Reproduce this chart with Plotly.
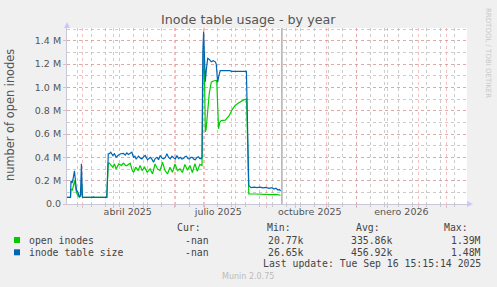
import plotly.graph_objects as go
import pandas as pd

# ---------------- data ----------------
START = "2025-02-13"          # day offsets below are counted from this date
END = "2026-03-22"
NOW = "2025-09-17"

blue_day = [0, 3.5, 4, 5, 6, 7.5, 8.5, 9.5, 11, 12.5, 13.5, 14.5, 15.5, 16, 26, 26.5, 27, 40,
            41.5, 42.6, 44, 46, 47.7, 49.4, 51.7, 54.1, 56.8, 58.5, 60.1, 61.8, 63.5, 65.2, 66.8,
            68.2, 69.5, 71.9, 73.5, 75.2, 77, 78.6, 80.9, 82.2, 83.6, 85.3, 87, 88.6, 90.3, 92,
            93.7, 95.4, 97.1, 98.8, 100.4, 102.1, 103.8, 105.5, 107.1, 108.8, 110.5, 112.2, 113.9,
            115.5, 117, 118.5, 120, 121.5, 123, 124.5, 126, 127.5, 129, 130.5, 132, 133.5, 135, 135.7,
            136.5, 137.3, 138, 139, 140, 141.4, 143, 145, 147, 149, 150, 151.4, 152.6, 154, 164, 165,
            180.3, 181.9, 182.7, 185, 188, 191, 194, 197, 200, 203, 206, 208, 210, 212, 213.5, 214.6]
blue_val = [0.057, 0.057, 0.20, 0.18, 0.21, 0.285, 0.20, 0.12, 0.10, 0.06, 0.07, 0.345, 0.06, 0.057,
            0.057, 0.065, 0.057, 0.057,
            0.43, 0.431, 0.444, 0.416, 0.431, 0.401, 0.420, 0.431, 0.435, 0.42, 0.438, 0.425, 0.435,
            0.444, 0.401, 0.41, 0.387, 0.41, 0.395, 0.387, 0.405, 0.416, 0.379, 0.395, 0.401, 0.385,
            0.358, 0.39, 0.401, 0.38, 0.416, 0.395, 0.387, 0.40, 0.431, 0.40, 0.387, 0.41, 0.401,
            0.385, 0.416, 0.39, 0.401, 0.385, 0.39, 0.405, 0.41, 0.39, 0.385, 0.40, 0.40, 0.385, 0.38,
            0.40, 0.405, 0.39, 0.39, 0.40,
            1.30, 1.48, 1.30, 1.05, 1.15, 1.25, 1.24, 1.22, 1.23, 1.22, 1.20, 1.045, 1.10, 1.145,
            1.145, 1.138, 1.138, 0.35, 0.158, 0.14, 0.145, 0.14, 0.145, 0.138, 0.142, 0.135, 0.14,
            0.128, 0.135, 0.12, 0.125, 0.11]

green_day = [0, 3.5, 4, 5.5, 7.5, 8.5, 9.5, 11, 12.5, 14, 14.8, 15.5, 16, 40,
             41.5, 42.6, 44.5, 46, 47.7, 49.4, 52, 54.5, 56.8, 59, 60.1, 62, 63.5, 65.5, 67, 69,
             71.5, 73.5, 75.5, 78, 80.5, 83.5, 86, 88.5, 91, 93.5, 96, 98.5, 101, 103.5, 106, 108.5,
             111, 113.5, 116, 118.5, 121, 123.5, 126, 128.5, 131, 133.5, 135.7,
             136.5, 137.3, 138.2, 139, 139.8, 141, 143, 145, 147, 150.5, 151.4, 152.3, 153.5, 155,
             159, 161, 163, 166, 169, 172, 175, 178, 180.5, 181.7, 182.7, 190, 195, 200, 205, 210,
             214.6]
green_val = [0.057, 0.057, 0.13, 0.12, 0.20, 0.15, 0.10, 0.07, 0.06, 0.08, 0.17, 0.06, 0.057, 0.057,
             0.35, 0.350, 0.33, 0.316, 0.344, 0.30, 0.344, 0.33, 0.35, 0.33, 0.33, 0.344, 0.35,
             0.29, 0.272, 0.316, 0.287, 0.33, 0.287, 0.316, 0.272, 0.301, 0.258, 0.344, 0.301,
             0.287, 0.358, 0.287, 0.258, 0.316, 0.272, 0.344, 0.287, 0.301, 0.27, 0.34, 0.29, 0.33,
             0.27, 0.345, 0.28, 0.34, 0.33,
             1.0, 1.32, 1.10, 0.62, 0.64, 0.78, 0.95, 1.045, 1.055, 1.06, 0.85, 0.645, 0.70, 0.715,
             0.72, 0.74, 0.758, 0.81, 0.845, 0.865, 0.88, 0.895, 0.90, 0.50, 0.086, 0.086, 0.083,
             0.085, 0.08, 0.082, 0.075]

y_ticks = [0, 0.2, 0.4, 0.6, 0.8, 1.0, 1.2, 1.4]
y_ticktext = ["0.0", "0.2 M", "0.4 M", "0.6 M", "0.8 M", "1.0 M", "1.2 M", "1.4 M"]
x_label_dates = ["2025-04-15", "2025-07-15", "2025-10-15", "2026-01-15"]
x_label_text = ["abril 2025", "julio 2025", "octubre 2025", "enero 2026"]

series_names = ["open inodes", "inode table size"]
series_colors = ["#00CC00", "#0066B3"]
stats_cur = ["-nan", "-nan"]
stats_min = ["20.77k", "26.65k"]
stats_avg = ["335.86k", "456.92k"]
stats_max = ["1.39M", "1.48M"]

# ---------------- geometry ----------------
W, H = 497, 287
L, R, T, B = 67, 467, 28, 204


def fx(x):
    return (x - L) / (R - L)


def fy(y):
    return (B - y) / (B - T)


base = pd.Timestamp(START)
blue_x = base + pd.to_timedelta(blue_day, unit="D")
green_x = base + pd.to_timedelta(green_day, unit="D")

month_starts = pd.date_range("2025-03-01", "2026-03-01", freq="MS")
minor_lines = pd.date_range("2025-02-24", END, freq="14D")

fig = go.Figure()
fig.add_trace(go.Scatter(x=green_x, y=green_val, mode="lines",
                         line=dict(color=series_colors[0], width=1.2), hoverinfo="skip"))
fig.add_trace(go.Scatter(x=blue_x, y=blue_val, mode="lines",
                         line=dict(color=series_colors[1], width=1.2), hoverinfo="skip"))
fig.add_trace(go.Scatter(x=[], y=[], xaxis="x2", showlegend=False))

MAJ = "rgba(235,140,140,0.55)"
MIN = "rgba(185,185,185,0.75)"
tick_font = dict(family="DejaVu Sans", size=9.5, color="#555555")

fig.update_layout(
    width=W, height=H,
    margin=dict(l=L, r=W - R, t=T, b=H - B),
    paper_bgcolor="#F0F0F0", plot_bgcolor="#FFFFFF",
    showlegend=False,
    xaxis=dict(
        type="date", range=[START, END],
        tickmode="array", tickvals=month_starts, showticklabels=False,
        showgrid=True, gridcolor=MAJ, griddash="dot", gridwidth=1,
        ticks="outside", ticklen=3, tickcolor=MAJ,
        minor=dict(tickvals=minor_lines, showgrid=True, gridcolor=MIN, griddash="dot",
                   gridwidth=1, ticks="outside", ticklen=2, tickcolor=MIN),
        showline=True, linecolor="#C8C8D8", linewidth=1, zeroline=False,
    ),
    xaxis2=dict(
        type="date", range=[START, END], overlaying="x", side="bottom",
        tickmode="array", tickvals=x_label_dates, ticktext=x_label_text,
        showgrid=False, ticks="", tickfont=tick_font, showline=False, zeroline=False,
    ),
    yaxis=dict(
        range=[0, 1.51], tickmode="array", tickvals=y_ticks, ticktext=y_ticktext,
        tickfont=tick_font, showgrid=True, gridcolor=MAJ, griddash="dot", gridwidth=1,
        ticks="outside", ticklen=3, tickcolor=MAJ,
        minor=dict(dtick=0.1, showgrid=True, gridcolor=MIN, griddash="dot", gridwidth=1),
        showline=True, linecolor="#C8C8D8", linewidth=1, zeroline=False,
    ),
)

# "now" rule
fig.add_shape(type="line", xref="x", yref="paper", x0=NOW, x1=NOW, y0=0, y1=1,
              line=dict(color="#888888", width=1))
# axis arrows
ARROW = "#C8C8FF"
fig.add_shape(type="path", xref="paper", yref="paper",
              path=f"M {fx(64)},{fy(28)} L {fx(70)},{fy(28)} L {fx(67)},{fy(22)} Z",
              fillcolor=ARROW, line=dict(width=0))
fig.add_shape(type="path", xref="paper", yref="paper",
              path=f"M {fx(467)},{fy(201)} L {fx(467)},{fy(207)} L {fx(473)},{fy(204)} Z",
              fillcolor=ARROW, line=dict(width=0))


def text(x, y, s, size, color, anchor="center", family="DejaVu Sans", angle=0):
    fig.add_annotation(x=fx(x), y=fy(y), xref="paper", yref="paper", text=s,
                       showarrow=False, xanchor=anchor, yanchor="middle", textangle=angle,
                       font=dict(family=family, size=size, color=color))


text(248, 19, "Inode table usage - by year", 12.7, "#555555")
text(10, 115, "number of open inodes", 11.4, "#555555", angle=-90)
text(488, 53, "RRDTOOL / TOBI OETIKER", 7, "#C8C8C8", angle=90)

MONO = "DejaVu Sans Mono"
LEG = "#444444"
text(203, 227.5, "Cur:", 9.8, LEG, "right", MONO)
text(293, 227.5, "Min:", 9.8, LEG, "right", MONO)
text(382, 227.5, "Avg:", 9.8, LEG, "right", MONO)
text(470, 227.5, "Max:", 9.8, LEG, "right", MONO)
rows_y = [240, 252.3]
for i in range(2):
    yy = rows_y[i]
    fig.add_shape(type="rect", xref="paper", yref="paper",
                  x0=fx(14), x1=fx(20), y0=fy(yy + 3), y1=fy(yy - 3),
                  fillcolor=series_colors[i], line=dict(width=0))
    text(26.5, yy, series_names[i], 9.8, LEG, "left", MONO)
    text(211, yy, stats_cur[i], 9.8, LEG, "right", MONO)
    text(305, yy, stats_min[i], 9.8, LEG, "right", MONO)
    text(394, yy, stats_avg[i], 9.8, LEG, "right", MONO)
    text(483, yy, stats_max[i], 9.8, LEG, "right", MONO)
text(483, 263.5, "Last update: Tue Sep 16 15:15:14 2025", 9.8, LEG, "right", MONO)
text(248, 276, "Munin 2.0.75", 8, "#BBBBBB")

fig.write_html("out.html")
